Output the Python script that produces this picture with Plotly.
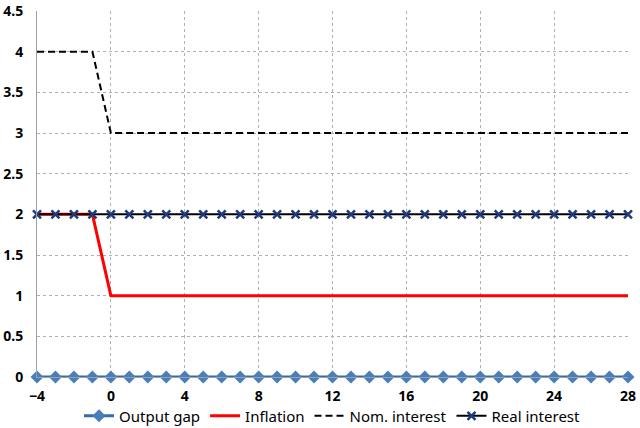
import plotly.graph_objects as go

periods = list(range(-4, 29))
output_gap = [0] * len(periods)
inflation = [2, 2, 2, 2] + [1] * 29
nom_interest = [4, 4, 4, 4] + [3] * 29
real_interest = [2] * len(periods)

x_ticks = list(range(-4, 29, 4))
y_ticks = [0, 0.5, 1, 1.5, 2, 2.5, 3, 3.5, 4, 4.5]
y_labels = ['0', '0.5', '1', '1.5', '2', '2.5', '3', '3.5', '4', '4.5']

fig = go.Figure()
fig.add_trace(go.Scatter(x=periods, y=output_gap, name='Output gap', mode='lines+markers',
                         line=dict(color='#2F6FB0', width=3), cliponaxis=False,
                         marker=dict(symbol='diamond', size=10, color='#4A7EBB')))
fig.add_trace(go.Scatter(x=periods, y=inflation, name='Inflation', mode='lines',
                         line=dict(color='#FF0000', width=3)))
fig.add_trace(go.Scatter(x=periods, y=nom_interest, name='Nom. interest', mode='lines',
                         line=dict(color='#000000', width=2, dash='7px,4px')))
fig.add_trace(go.Scatter(x=periods, y=real_interest, name='Real interest', mode='lines+markers',
                         line=dict(color='#000000', width=2), cliponaxis=False,
                         marker=dict(symbol='x-thin-open', size=8, color='#1F3A7A',
                                     line=dict(color='#1F3A7A', width=2.5))))

fig.update_layout(
    width=640, height=428,
    margin=dict(l=37, r=12, t=11, b=51, autoexpand=False),
    paper_bgcolor='white', plot_bgcolor='white',
    font=dict(family='Noto Sans', size=13, color='black'),
    showlegend=True,
    legend=dict(orientation='h', x=0.5, xanchor='center', yref='container', y=0.028,
                yanchor='middle', font=dict(size=15), traceorder='normal',
                bgcolor='rgba(0,0,0,0)'),
)
fig.update_xaxes(range=[-4, 28], tickvals=x_ticks, showgrid=True, gridcolor='#B0B0B0',
                 griddash='dot', gridwidth=1, zeroline=False, showline=True,
                 linecolor='#A0A0A0', tickfont=dict(size=14, weight='bold'),
                 ticks='', ticklabelstandoff=6, automargin=False,
                 ticklabeloverflow='allow')
fig.update_yaxes(range=[0, 4.5001], tickvals=y_ticks, ticktext=y_labels, showgrid=True,
                 gridcolor='#B0B0B0', griddash='dot', gridwidth=1, zeroline=False,
                 showline=True, linecolor='#A0A0A0', automargin=False,
                 tickfont=dict(size=14, weight='bold'), ticks='', ticklabelstandoff=10,
                 ticklabeloverflow='allow')

fig.write_html("out.html", config={'displayModeBar': False},
               post_script="document.body.style.margin='0';")
